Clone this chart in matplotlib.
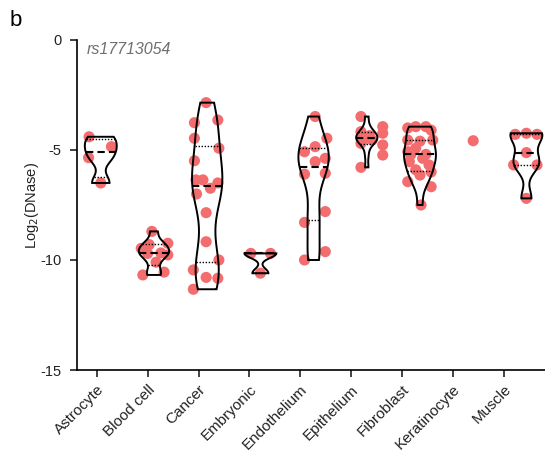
import numpy as np
import matplotlib
matplotlib.use("Agg")
import matplotlib.pyplot as plt
from matplotlib.mlab import GaussianKDE

plt.rcParams["font.family"] = ["Liberation Sans", "DejaVu Sans"]
plt.rcParams["axes.unicode_minus"] = False

CATEGORIES = ["Astrocyte", "Blood cell", "Cancer", "Embryonic", "Endothelium",
              "Epithelium", "Fibroblast", "Keratinocyte", "Muscle"]

# log2(DNase) values, with the horizontal scatter of each dot
astrocyte = [-4.4, -4.85, -5.35, -6.5]
astrocyte_x = [-0.22, 0.2, -0.23, 0.0]
blood_cell = [-8.7, -9.24, -9.3, -9.47, -9.7, -9.68, -9.77, -10.1, -10.68, -10.55]
blood_cell_x = [-0.04, 0.26, -0.09, -0.24, -0.12, 0.13, 0.26, 0.04, -0.21, 0.19]
cancer = [-2.85, -3.76, -3.64, -4.47, -4.92, -5.49, -6.36, -6.36, -6.5, -6.74,
          -7.0, -7.85, -9.17, -10.0, -10.45, -10.79, -10.83, -11.33]
cancer_x = [-0.02, -0.24, 0.2, -0.24, 0.22, -0.24, -0.21, -0.08, 0.2, 0.06,
            -0.2, -0.02, -0.02, 0.22, -0.26, -0.02, 0.2, -0.26]
embryonic = [-9.7, -9.7, -10.6]
embryonic_x = [-0.18, 0.19, 0.0]
endothelium = [-3.48, -4.47, -5.08, -4.85, -5.53, -5.38, -6.1, -6.06, -7.8, -8.29, -9.62, -10.0]
endothelium_x = [0.03, 0.25, -0.17, 0.03, 0.03, 0.22, -0.17, 0.22, 0.22, -0.17, 0.22, -0.17]
epithelium = [-3.48, -3.94, -4.17, -4.24, -4.7, -4.77, -5.23, -5.79, -4.4, -4.55, -4.45, -4.35, -4.5]
epithelium_x = [-0.11, 0.3, -0.11, 0.3, -0.11, 0.3, 0.3, -0.11, 0.0, 0.1, -0.1, 0.05, -0.05]
fibroblast = [-3.94, -3.94, -4.0, -4.1, -4.55, -4.55, -4.6, -4.92, -5.08, -5.2,
              -5.38, -5.53, -5.68, -5.9, -6.14, -6.44, -6.67, -6.0, -5.2, -7.5]
fibroblast_x = [-0.08, 0.11, -0.23, 0.21, -0.23, 0.24, 0.0, -0.08, -0.23, 0.11,
                0.05, -0.2, 0.17, -0.08, 0.0, -0.23, 0.21, 0.21, -0.17, 0.02]
keratinocyte = [-4.58]
keratinocyte_x = [0.0]
muscle = [-4.29, -4.24, -4.29, -5.12, -5.68, -5.68, -7.2]
muscle_x = [-0.21, 0.0, 0.2, 0.0, -0.24, 0.2, 0.0]

GROUPS = [astrocyte, blood_cell, cancer, embryonic, endothelium,
          epithelium, fibroblast, keratinocyte, muscle]
JITTER = [astrocyte_x, blood_cell_x, cancer_x, embryonic_x, endothelium_x,
          epithelium_x, fibroblast_x, keratinocyte_x, muscle_x]

# layout / style
VIOLIN_WIDTHS = [0.6, 0.57, 0.57, 0.6, 0.57, 0.4, 0.6, 0.6, 0.6]
TICK_STEP = 0.957
TICK_SHIFT = -0.077
DOT_COLOR = "#F36C6E"
KDE_BW = 0.4


def draw_violin(ax, pos, values, width):
    values = np.asarray(values, dtype=float)
    if len(values) < 2 or np.ptp(values) == 0:
        return
    kde = GaussianKDE(values, bw_method=KDE_BW)
    ys = np.linspace(values.min(), values.max(), 300)
    dens = kde.evaluate(ys)
    dens = dens / dens.max() * width / 2
    xs = np.concatenate([pos - dens, (pos + dens)[::-1]])
    yy = np.concatenate([ys, ys[::-1]])
    ax.fill(xs, yy, facecolor="none", edgecolor="black", linewidth=1.4,
            joinstyle="miter", zorder=3)
    q1, med, q3 = np.percentile(values, [25, 50, 75], method="weibull")
    for q, style, lw in ((q1, (0, (1, 1.2)), 1.0), (q3, (0, (1, 1.2)), 1.0),
                         (med, (0, (3.5, 2)), 1.5)):
        d = np.interp(q, ys, dens)
        ax.plot([pos - d, pos + d], [q, q], color="black", linestyle=style,
                linewidth=lw, zorder=4)


fig = plt.figure(figsize=(5.45, 4.54), dpi=100)
ax = fig.add_axes([0.1413, 0.185, 0.8587, 0.727])

for i, (vals, jit) in enumerate(zip(GROUPS, JITTER)):
    ax.scatter(i + np.asarray(jit), vals, s=64, color=DOT_COLOR,
               edgecolors="none", zorder=2)
    draw_violin(ax, i, vals, VIOLIN_WIDTHS[i])

ax.set_xlim(-0.447, 8.35)
ax.set_ylim(-15, 0)
ax.set_yticks([0, -5, -10, -15])
ax.set_yticklabels(["0", "-5", "-10", "-15"])
ax.set_xticks(np.arange(len(CATEGORIES)) * TICK_STEP + TICK_SHIFT)
ax.set_xticklabels(CATEGORIES, rotation=45, ha="right", rotation_mode="anchor")

for side in ("top", "right"):
    ax.spines[side].set_visible(False)
for side in ("left", "bottom"):
    ax.spines[side].set_linewidth(1.2)
ax.tick_params(axis="both", direction="out", length=5, width=1.2,
               colors="#222222", pad=4)
ax.tick_params(axis="y", labelsize=10.5, pad=6)
ax.tick_params(axis="x", labelsize=11)
ax.set_ylabel(r"Log$_2$(DNase)", fontsize=10.5, color="#222222")
ax.yaxis.set_label_coords(-0.077, 0.5)

ax.text(0.02, 0.995, "rs17713054", transform=ax.transAxes, fontsize=11.5,
        style="italic", color="#6f6f6f", va="top", ha="left")
fig.text(0.017, 0.955, "b", fontsize=16, color="black", va="center", ha="left")

fig.savefig("out.png", dpi=100)
